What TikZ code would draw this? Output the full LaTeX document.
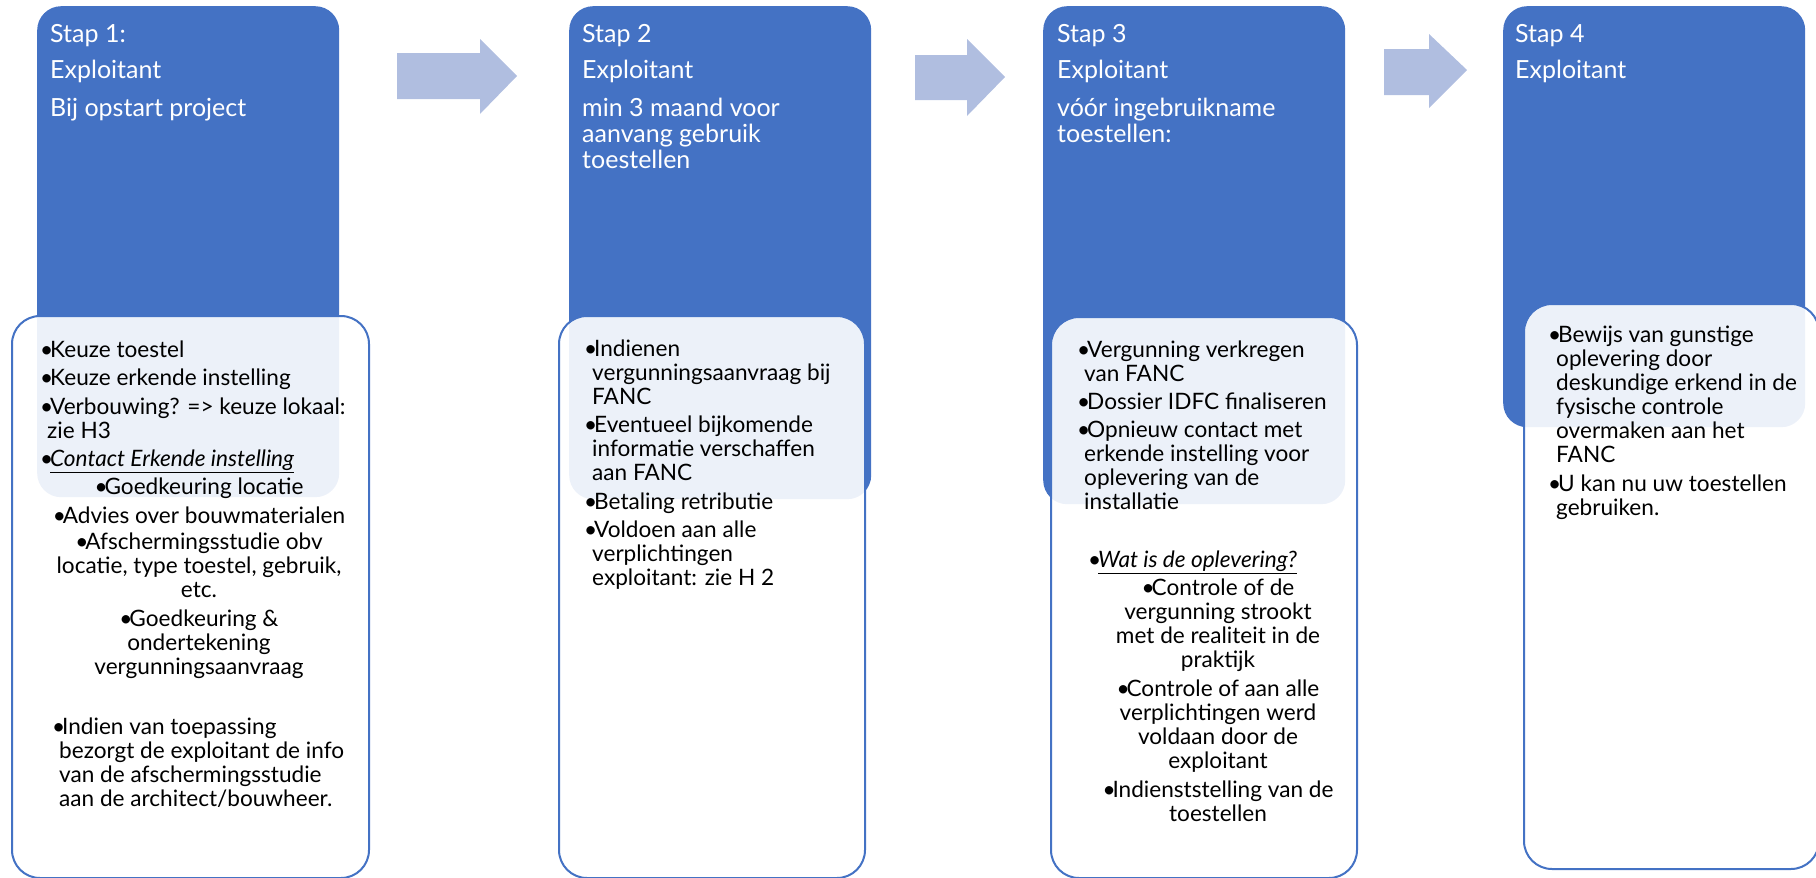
\documentclass[tikz,border=0pt]{standalone}
\usepackage{fontspec}
\setmainfont{Lato}
\usetikzlibrary{positioning}

\definecolor{stepblue}{HTML}{4472C4}
\definecolor{arrowblue}{RGB}{176,190,224}
\newcommand{\bull}{\makebox[10pt][l]{\textbullet}}
\newcommand{\titlestrut}{\rule{0pt}{23pt}}
\newcommand{\itemstrut}{\rule{0pt}{20pt}}

\begin{document}
\begin{tikzpicture}[x=1pt,y=-1pt,
	stepbox/.style={fill=stepblue, rounded corners=24pt, minimum width=302pt, anchor=north west, inner sep=0pt},
	infobox/.style={draw=stepblue, line width=2pt, fill=white, fill opacity=0.9, rounded corners=28pt, anchor=north west, inner sep=0pt},
	titletext/.style={text=white, font=\fontsize{25}{26}\selectfont, align=left, anchor=north west, inner sep=0pt},
	itemtext/.style={text=black, font=\fontsize{22.6}{24}\selectfont, align=left, anchor=north west, inner sep=0pt},
	midtext/.style={itemtext, align=center, anchor=north},
	stepjump/.style={fill=arrowblue}]
	\useasboundingbox (0,0) rectangle (1816,878);

	% Blue step headers
	\node[stepbox, minimum height=491pt] (s1) at (37,6) {};
	\node[stepbox, minimum height=493pt] (s2) at (569,6) {};
	\node[stepbox, minimum height=498pt] (s3) at (1043,6) {};
	\node[stepbox, minimum height=421pt] (s4) at (1503,6) {};

	% Light info panels
	\node[infobox, minimum width=357pt, minimum height=562pt] (i1) at (11,315) {};
	\node[infobox, minimum width=306pt, minimum height=562pt] (i2) at (558,315) {};
	\node[infobox, minimum width=306pt, minimum height=561pt] (i3) at (1050,316) {};
	\node[infobox, minimum width=295pt, minimum height=565pt] (i4) at (1523,303) {};

	% Arrows between the steps
	\fill[stepjump] (397,53) -- (480,53) -- (480,39) -- (517,76) -- (480,114) -- (480,99) -- (397,99) -- cycle;
	\fill[stepjump] (915,55) -- (967,55) -- (967,39) -- (1005,77) -- (967,116) -- (967,100) -- (915,100) -- cycle;
	\fill[stepjump] (1384,49) -- (1429,49) -- (1429,34) -- (1467,70) -- (1429,108) -- (1429,95) -- (1384,95) -- cycle;

	% Titles
	\node[titletext] (t1) at (50,19) {\titlestrut Stap 1:\\[10pt]Exploitant\\[12pt]Bij opstart project};
	\node[titletext] (t2) at (582,19) {\titlestrut Stap 2\\[10pt]Exploitant\\[12pt]min 3 maand voor\\aanvang gebruik\\toestellen};
	\node[titletext] (t3) at (1057,19) {\titlestrut Stap 3\\[10pt]Exploitant\\[12pt]vóór ingebruikname\\toestellen:};
	\node[titletext] (t4) at (1515,19) {\titlestrut Stap 4\\[10pt]Exploitant};

	% Step 1
	\node[itemtext] (a1) at (40,337) {\itemstrut\bull Keuze toestel\\[4.5pt]
		\bull Keuze erkende instelling\\[4.5pt]
		\bull Verbouwing? => keuze lokaal:\\
		\hspace*{7pt}zie H3\\[4pt]
		\bull\textit{\underline{Contact Erkende instelling}}};
	\node[midtext] (b1) at (199,474) {\itemstrut\bull Goedkeuring locatie\\[5pt]
		\bull Advies over bouwmaterialen\\[2pt]
		\bull Afschermingsstudie obv\\
		locatie, type toestel, gebruik,\\
		etc.\\[5pt]
		\bull Goedkeuring \&\\
		ondertekening\\
		vergunningsaanvraag};
	\node[itemtext] (c1) at (52,714) {\itemstrut\bull Indien van toepassing\\
		\hspace*{7pt}bezorgt de exploitant de info\\
		\hspace*{7pt}van de afschermingsstudie\\
		\hspace*{7pt}aan de architect/bouwheer.};

	% Step 2
	\node[itemtext] (a2) at (584,336) {\itemstrut\bull Indienen\\
		\hspace*{8pt}vergunningsaanvraag bij\\
		\hspace*{8pt}FANC\\[4.5pt]
		\bull Eventueel bijkomende\\
		\hspace*{8pt}informatie verschaffen\\
		\hspace*{8pt}aan FANC\\[4.5pt]
		\bull Betaling retributie\\[4.5pt]
		\bull Voldoen aan alle\\
		\hspace*{8pt}verplichtingen\\
		\hspace*{8pt}exploitant: zie H 2};

	% Step 3
	\node[itemtext] (a3) at (1077,337) {\itemstrut\bull Vergunning verkregen\\
		\hspace*{7pt}van FANC\\[4pt]
		\bull Dossier IDFC finaliseren\\[4.5pt]
		\bull Opnieuw contact met\\
		\hspace*{7pt}erkende instelling voor\\
		\hspace*{7pt}oplevering van de\\
		\hspace*{7pt}installatie};
	\node[itemtext] (w3) at (1088,547) {\itemstrut\bull\textit{\underline{Wat is de oplevering?}}};
	\node[midtext] (b3) at (1218,575) {\itemstrut\bull Controle of de\\
		vergunning strookt\\
		met de realiteit in de\\
		praktijk\\[5pt]
		\bull Controle of aan alle\\
		verplichtingen werd\\
		voldaan door de\\
		exploitant\\[5pt]
		\bull Indienststelling van de\\
		toestellen};

	% Step 4
	\node[itemtext] (a4) at (1548,322) {\itemstrut\bull Bewijs van gunstige\\
		\hspace*{8pt}oplevering door\\
		\hspace*{8pt}deskundige erkend in de\\
		\hspace*{8pt}fysische controle\\
		\hspace*{8pt}overmaken aan het\\
		\hspace*{8pt}FANC\\[5pt]
		\bull U kan nu uw toestellen\\
		\hspace*{8pt}gebruiken.};
\end{tikzpicture}
\end{document}
